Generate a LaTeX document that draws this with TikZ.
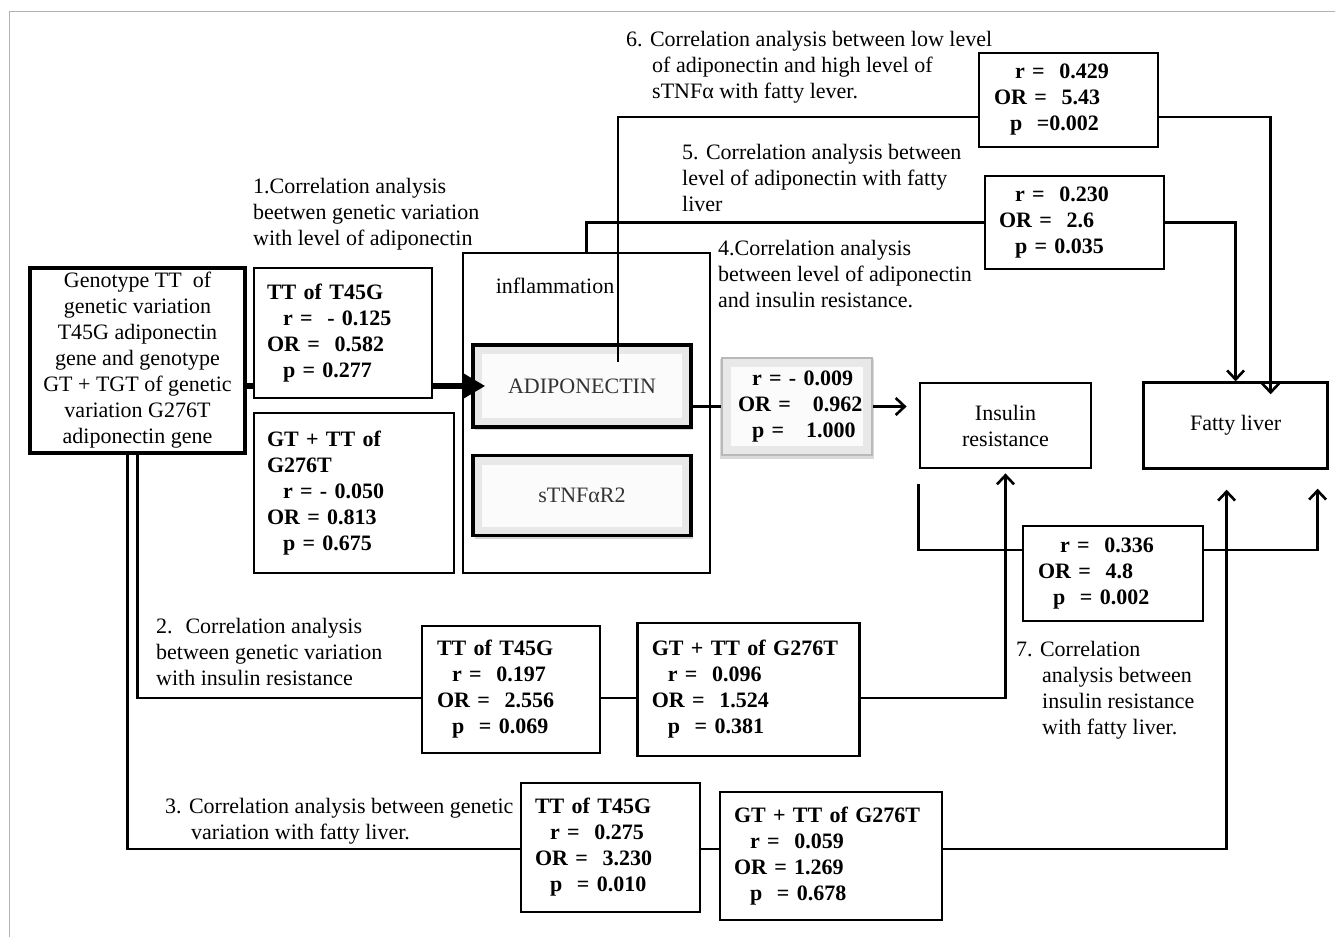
\documentclass[tikz,border=0pt]{standalone}
\usepackage{fontspec}
\setmainfont{Liberation Serif}
\usetikzlibrary{arrows.meta, positioning, calc, shadows}
\newcommand\dgfont{\fontsize{22pt}{26pt}\selectfont}
\newcommand\ind[1][16pt]{\hspace*{#1}}

\begin{document}
\begin{tikzpicture}[x=10pt, y=-10pt,
  every node/.style={font=\dgfont},
  conn/.style={line width=2.6pt},
  arr/.style={conn, -{Straight Barb[length=9pt, width=17pt]}},
  bigline/.style={line width=6.5pt},
  bigarr/.style={bigline, -{Triangle[length=22pt, width=24pt]}},
  plainbox/.style={draw, line width=2.8pt, fill=white, align=center, inner sep=0pt},
  statbox/.style={draw, line width=2.8pt, fill=white, font=\dgfont\bfseries,
                  align=left, inner ysep=0pt},
  bevel/.style={draw, line width=3.5pt, fill=gray!18, text=black!80, inner sep=0pt,
    path picture={\fill[gray!3]
      ([shift={(9pt,9pt)}]path picture bounding box.south west) rectangle
      ([shift={(-9pt,-9pt)}]path picture bounding box.north east);}},
  lbl/.style={align=left, inner sep=0pt, anchor=north west}
]
\useasboundingbox (0,0) rectangle (133.5,93.7);

% frame
\draw[gray!60, line width=1pt] (133.5,1.1) -- (0.9,1.1) -- (0.9,93.7);

% genotype
\node[plainbox, line width=3.8pt, minimum width=215pt, minimum height=185pt] (geno) at (13.75,36.05)
  {Genotype TT~ of\\genetic variation\\T45G adiponectin\\gene and genotype\\GT + TGT of genetic\\variation G276T\\adiponectin gene};

% inflammation group
\node[draw, line width=2.8pt, minimum width=247pt, minimum height=320pt] (infl) at (58.65,41.3) {};
\node[lbl] (infltxt) at ([xshift=34pt, yshift=-26pt]infl.north west) {inflammation};
\node[bevel, drop shadow={shadow xshift=2pt, shadow yshift=-3pt, opacity=0.35},
      minimum width=218pt, minimum height=82pt] (adipo) at (58.2,38.6) {ADIPONECTIN};
\node[bevel, drop shadow={shadow xshift=2pt, shadow yshift=-3pt, opacity=0.35},
      minimum width=218pt, minimum height=80pt, below=25pt of adipo] (stnf) {sTNFαR2};

% targets
\node[plainbox, minimum width=171pt, minimum height=85pt] (ins) at (100.55,42.55) {Insulin\\resistance};
\node[plainbox, line width=2.4pt, minimum width=184pt, minimum height=86pt, right=50pt of ins] (fatty) {Fatty liver};

% statistics
\node[statbox, bevel, draw=gray!55, line width=2.4pt, text=black,
      drop shadow={shadow xshift=0pt, shadow yshift=-2pt, opacity=0.3, shadow scale=1.03},
      minimum width=150pt, minimum height=97pt, inner xsep=6pt, text width=138pt] (s0) at (79.7,40.65)
  {\ind[24pt]r = - 0.009\\\ind[10pt]OR =~~ 0.962\\\ind[24pt]p =~~ 1.000};
\node[statbox, minimum width=178pt, minimum height=130pt, inner xsep=13pt, text width=152pt] (t1) at (34.3,33.3)
  {TT of T45G\\\ind r =~ - 0.125\\OR =~ 0.582\\\ind p = 0.277};
\node[statbox, minimum width=200pt, minimum height=160pt, inner xsep=13pt, text width=174pt] (g1) at (35.4,49.3)
  {GT + TT of\\G276T\\\ind r = - 0.050\\OR = 0.813\\\ind p = 0.675};
\node[statbox, minimum width=179pt, minimum height=94pt, inner xsep=15pt, text width=149pt] (a6) at (106.85,10.0)
  {\ind[21pt]r =~ 0.429\\OR =~ 5.43\\\ind p~ =0.002};
\node[statbox, minimum width=179pt, minimum height=93pt, inner xsep=14pt, text width=151pt] (a5) at (107.45,22.25)
  {\ind r =~ 0.230\\OR =~ 2.6\\\ind p = 0.035};
\node[statbox, minimum width=180pt, minimum height=95pt, inner xsep=15pt, text width=150pt] (a7) at (111.3,57.35)
  {\ind[22pt]r =~ 0.336\\OR =~ 4.8\\\ind[15pt]p~ = 0.002};
\node[statbox, minimum width=178pt, minimum height=127pt, inner xsep=15pt, text width=148pt] (t2) at (51.1,68.95)
  {TT of T45G\\\ind[15pt]r =~ 0.197\\OR =~ 2.556\\\ind[15pt]p~ = 0.069};
\node[statbox, minimum width=222pt, minimum height=133pt, inner xsep=14pt, text width=194pt, right=35pt of t2] (g2)
  {GT + TT of G276T\\\ind r =~ 0.096\\OR =~ 1.524\\\ind p~ = 0.381};
\node[statbox, minimum width=179pt, minimum height=129pt, inner xsep=14pt, text width=151pt] (t3) at (61.05,84.75)
  {TT of T45G\\\ind[15pt]r =~ 0.275\\OR =~ 3.230\\\ind[15pt]p~ = 0.010};
\node[statbox, minimum width=222pt, minimum height=128pt, inner xsep=14pt, text width=194pt] (g3) at (83.1,85.6)
  {GT + TT of G276T\\\ind r =~ 0.059\\OR = 1.269\\\ind p~ = 0.678};

% labels
\node[lbl] (lab1) at (25.3,17.8) {1.Correlation analysis\\beetwen genetic variation\\with level of adiponectin};
\node[lbl] (lab2) at (15.6,61.8) {2.~ Correlation analysis\\between genetic variation\\with insulin resistance};
\node[lbl] (lab3) at (16.5,79.8) {3. Correlation analysis between genetic\\\ind[26pt]variation with fatty liver.};
\node[lbl] (lab4) at (71.8,24.0) {4.Correlation analysis\\between level of adiponectin\\and insulin resistance.};
\node[lbl] (lab5) at (68.2,14.4) {5. Correlation analysis between\\level of adiponectin with fatty\\liver};
\node[lbl] (lab6) at (62.6,3.1) {6. Correlation analysis between low level\\\ind[26pt]of adiponectin and high level of\\\ind[26pt]sTNFα with fatty lever.};
\node[lbl] (lab7) at (101.6,64.1) {7. Correlation\\\ind[26pt]analysis between\\\ind[26pt]insulin resistance\\\ind[26pt]with fatty liver.};

% levels
\coordinate (c6) at (61.8,36.2);
\coordinate (lvl6) at (0,11.7);
\coordinate (lvl2) at (0,69.8);
\coordinate (lvl3) at (0,84.9);
\coordinate (lvl7) at (0,55.0);

% arrows
\draw[bigline] (geno.east |- adipo.west) -- (t1.west |- adipo.west);
\draw[bigarr, shorten >=-14pt] (t1.east |- adipo.west) -- (adipo.west);

\draw[conn] (c6) |- (a6.west |- lvl6);
\draw[arr, shorten >=-13pt] (a6.east |- lvl6) -| ([xshift=35pt]fatty.north);
\draw[conn] (infl.north) |- (a5.west);
\draw[arr] (a5.east) -| (fatty.north);
\draw[conn] (adipo.east |- s0.west) -- (s0.west);
\draw[arr, shorten >=12pt] (s0.east) -- (s0.east -| ins.west);

\draw[conn] (geno.south) |- (t2.west |- lvl2);
\draw[conn] (t2.east |- lvl2) -- (g2.west |- lvl2);
\draw[arr, shorten >=4pt] (g2.east |- lvl2) -| (ins.south);

\draw[conn] ([xshift=-10pt]geno.south) |- (t3.west |- lvl3);
\draw[conn] (t3.east |- lvl3) -- (g3.west |- lvl3);
\draw[arr, shorten >=20pt] (g3.east |- lvl3) -| ([xshift=-9pt]fatty.south);

\draw[conn, shorten <=15pt] (ins.south west) |- (a7.west |- lvl7);
\draw[arr, shorten >=19pt] (a7.east |- lvl7) -| ([xshift=82pt]fatty.south);

\end{tikzpicture}
\end{document}
